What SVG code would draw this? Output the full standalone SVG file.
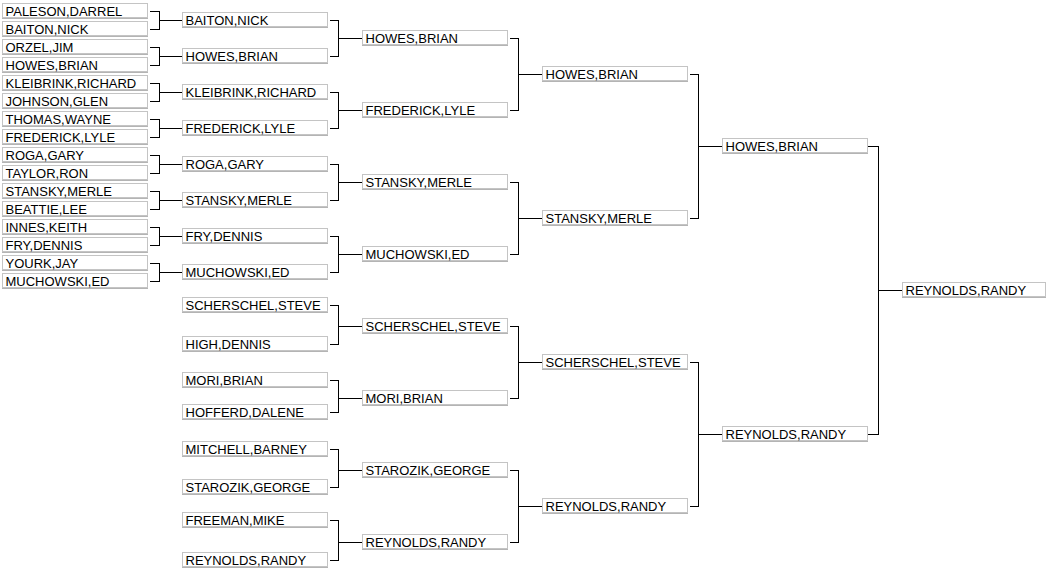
<svg xmlns="http://www.w3.org/2000/svg" width="1050" height="571" viewBox="0 0 1050 571">
<style>
.b{fill:#fff;stroke:#c4c4c4;stroke-width:1;shape-rendering:crispEdges}
.bb{stroke:#b4b4b4;stroke-width:1;shape-rendering:crispEdges}
text{font-family:"Liberation Sans",Arial,sans-serif;font-size:13px;fill:#000}
.c{fill:none;stroke:#000;stroke-width:1;shape-rendering:crispEdges}
</style>
<defs>
<g id="box"><rect class="b" x="0.5" y="-7.5" width="145" height="14"/><line class="bb" x1="0" x2="146" y1="7.5" y2="7.5"/></g>
<g id="box6"><rect class="b" x="0.5" y="-7.5" width="143" height="14"/><line class="bb" x1="0" x2="144" y1="7.5" y2="7.5"/></g>
</defs>
<rect width="1050" height="571" fill="#fff"/>
<g id="connectors">
<path class="c" d="M150 11.5H159.5V29.5H150M159.5 20.5H182 M150 47.5H159.5V65.5H150M159.5 56.5H182 M150 83.5H159.5V101.5H150M159.5 92.5H182 M150 119.5H159.5V137.5H150M159.5 128.5H182 M150 155.5H159.5V173.5H150M159.5 164.5H182 M150 191.5H159.5V209.5H150M159.5 200.5H182 M150 227.5H159.5V245.5H150M159.5 236.5H182 M150 263.5H159.5V281.5H150M159.5 272.5H182"/>
<path class="c" d="M330 20.5H338.5V56.5H330M338.5 38.5H362 M330 92.5H338.5V128.5H330M338.5 110.5H362 M330 164.5H338.5V200.5H330M338.5 182.5H362 M330 236.5H338.5V272.5H330M338.5 254.5H362 M330 305.5H338.5V344.5H330M338.5 326.5H362 M330 380.5H338.5V412.5H330M338.5 398.5H362 M330 449.5H338.5V487.5H330M338.5 470.5H362 M330 520.5H338.5V560.5H330M338.5 542.5H362"/>
<path class="c" d="M510 38.5H518.5V110.5H510M518.5 74.5H542 M510 182.5H518.5V254.5H510M518.5 218.5H542 M510 326.5H518.5V398.5H510M518.5 362.5H542 M510 470.5H518.5V542.5H510M518.5 506.5H542"/>
<path class="c" d="M690 74.5H698.5V218.5H690M698.5 146.5H722 M690 362.5H698.5V506.5H690M698.5 434.5H722"/>
<path class="c" d="M866 146.5H878.5V434.5H866M878.5 290.5H902"/>
</g>
<g id="r1-01" transform="translate(2,11)"><use href="#box"/><text x="3.5" y="5">PALESON,DARREL</text></g>
<g id="r1-02" transform="translate(2,29)"><use href="#box"/><text x="3.5" y="5">BAITON,NICK</text></g>
<g id="r1-03" transform="translate(2,47)"><use href="#box"/><text x="3.5" y="5">ORZEL,JIM</text></g>
<g id="r1-04" transform="translate(2,65)"><use href="#box"/><text x="3.5" y="5">HOWES,BRIAN</text></g>
<g id="r1-05" transform="translate(2,83)"><use href="#box"/><text x="3.5" y="5">KLEIBRINK,RICHARD</text></g>
<g id="r1-06" transform="translate(2,101)"><use href="#box"/><text x="3.5" y="5">JOHNSON,GLEN</text></g>
<g id="r1-07" transform="translate(2,119)"><use href="#box"/><text x="3.5" y="5">THOMAS,WAYNE</text></g>
<g id="r1-08" transform="translate(2,137)"><use href="#box"/><text x="3.5" y="5">FREDERICK,LYLE</text></g>
<g id="r1-09" transform="translate(2,155)"><use href="#box"/><text x="3.5" y="5">ROGA,GARY</text></g>
<g id="r1-10" transform="translate(2,173)"><use href="#box"/><text x="3.5" y="5">TAYLOR,RON</text></g>
<g id="r1-11" transform="translate(2,191)"><use href="#box"/><text x="3.5" y="5">STANSKY,MERLE</text></g>
<g id="r1-12" transform="translate(2,209)"><use href="#box"/><text x="3.5" y="5">BEATTIE,LEE</text></g>
<g id="r1-13" transform="translate(2,227)"><use href="#box"/><text x="3.5" y="5">INNES,KEITH</text></g>
<g id="r1-14" transform="translate(2,245)"><use href="#box"/><text x="3.5" y="5">FRY,DENNIS</text></g>
<g id="r1-15" transform="translate(2,263)"><use href="#box"/><text x="3.5" y="5">YOURK,JAY</text></g>
<g id="r1-16" transform="translate(2,281)"><use href="#box"/><text x="3.5" y="5">MUCHOWSKI,ED</text></g>
<g id="r2-01" transform="translate(182,20)"><use href="#box"/><text x="3.5" y="5">BAITON,NICK</text></g>
<g id="r2-02" transform="translate(182,56)"><use href="#box"/><text x="3.5" y="5">HOWES,BRIAN</text></g>
<g id="r2-03" transform="translate(182,92)"><use href="#box"/><text x="3.5" y="5">KLEIBRINK,RICHARD</text></g>
<g id="r2-04" transform="translate(182,128)"><use href="#box"/><text x="3.5" y="5">FREDERICK,LYLE</text></g>
<g id="r2-05" transform="translate(182,164)"><use href="#box"/><text x="3.5" y="5">ROGA,GARY</text></g>
<g id="r2-06" transform="translate(182,200)"><use href="#box"/><text x="3.5" y="5">STANSKY,MERLE</text></g>
<g id="r2-07" transform="translate(182,236)"><use href="#box"/><text x="3.5" y="5">FRY,DENNIS</text></g>
<g id="r2-08" transform="translate(182,272)"><use href="#box"/><text x="3.5" y="5">MUCHOWSKI,ED</text></g>
<g id="r2-09" transform="translate(182,305)"><use href="#box"/><text x="3.5" y="5">SCHERSCHEL,STEVE</text></g>
<g id="r2-10" transform="translate(182,344)"><use href="#box"/><text x="3.5" y="5">HIGH,DENNIS</text></g>
<g id="r2-11" transform="translate(182,380)"><use href="#box"/><text x="3.5" y="5">MORI,BRIAN</text></g>
<g id="r2-12" transform="translate(182,412)"><use href="#box"/><text x="3.5" y="5">HOFFERD,DALENE</text></g>
<g id="r2-13" transform="translate(182,449)"><use href="#box"/><text x="3.5" y="5">MITCHELL,BARNEY</text></g>
<g id="r2-14" transform="translate(182,487)"><use href="#box"/><text x="3.5" y="5">STAROZIK,GEORGE</text></g>
<g id="r2-15" transform="translate(182,520)"><use href="#box"/><text x="3.5" y="5">FREEMAN,MIKE</text></g>
<g id="r2-16" transform="translate(182,560)"><use href="#box"/><text x="3.5" y="5">REYNOLDS,RANDY</text></g>
<g id="r3-01" transform="translate(362,38)"><use href="#box"/><text x="3.5" y="5">HOWES,BRIAN</text></g>
<g id="r3-02" transform="translate(362,110)"><use href="#box"/><text x="3.5" y="5">FREDERICK,LYLE</text></g>
<g id="r3-03" transform="translate(362,182)"><use href="#box"/><text x="3.5" y="5">STANSKY,MERLE</text></g>
<g id="r3-04" transform="translate(362,254)"><use href="#box"/><text x="3.5" y="5">MUCHOWSKI,ED</text></g>
<g id="r3-05" transform="translate(362,326)"><use href="#box"/><text x="3.5" y="5">SCHERSCHEL,STEVE</text></g>
<g id="r3-06" transform="translate(362,398)"><use href="#box"/><text x="3.5" y="5">MORI,BRIAN</text></g>
<g id="r3-07" transform="translate(362,470)"><use href="#box"/><text x="3.5" y="5">STAROZIK,GEORGE</text></g>
<g id="r3-08" transform="translate(362,542)"><use href="#box"/><text x="3.5" y="5">REYNOLDS,RANDY</text></g>
<g id="r4-01" transform="translate(542,74)"><use href="#box"/><text x="3.5" y="5">HOWES,BRIAN</text></g>
<g id="r4-02" transform="translate(542,218)"><use href="#box"/><text x="3.5" y="5">STANSKY,MERLE</text></g>
<g id="r4-03" transform="translate(542,362)"><use href="#box"/><text x="3.5" y="5">SCHERSCHEL,STEVE</text></g>
<g id="r4-04" transform="translate(542,506)"><use href="#box"/><text x="3.5" y="5">REYNOLDS,RANDY</text></g>
<g id="r5-01" transform="translate(722,146)"><use href="#box"/><text x="3.5" y="5">HOWES,BRIAN</text></g>
<g id="r5-02" transform="translate(722,434)"><use href="#box"/><text x="3.5" y="5">REYNOLDS,RANDY</text></g>
<g id="r6-01" transform="translate(902,290)"><use href="#box6"/><text x="3.5" y="5">REYNOLDS,RANDY</text></g>
</svg>
